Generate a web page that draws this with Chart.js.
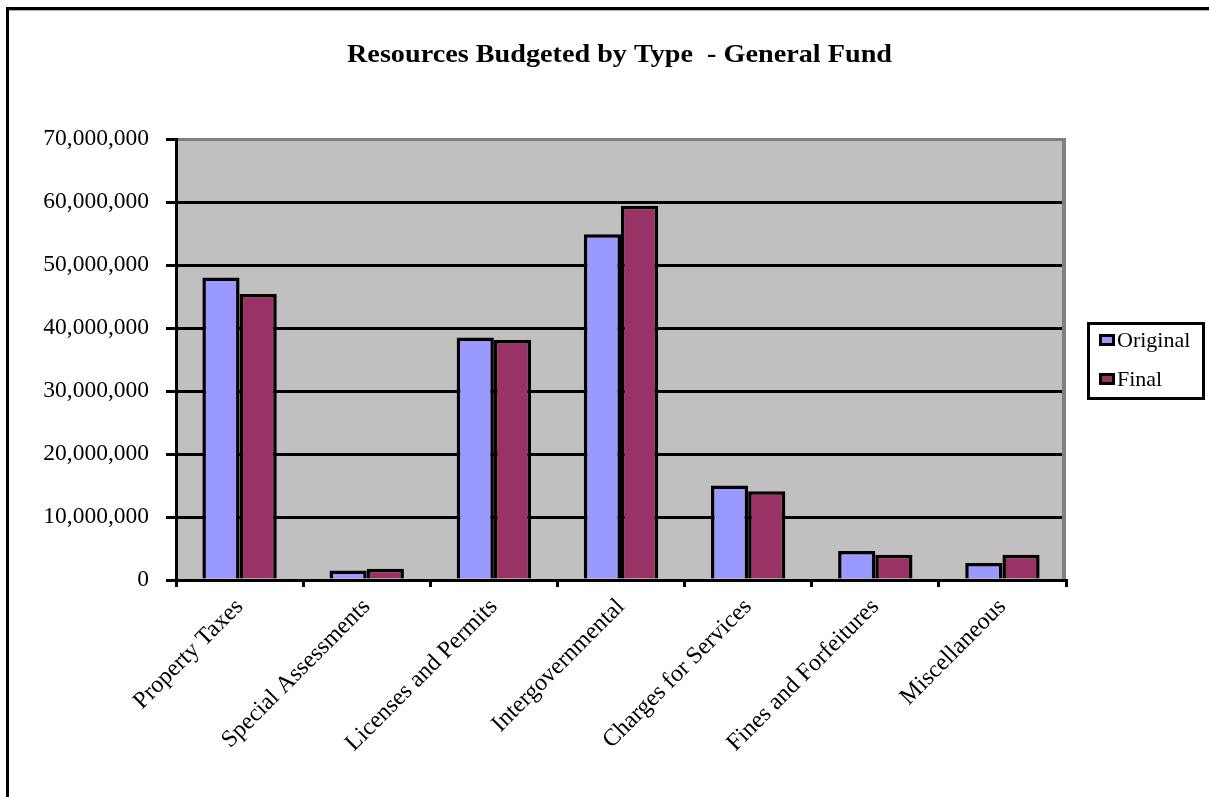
<!DOCTYPE html>
<html>
<head>
<meta charset="utf-8">
<script src="https://cdn.jsdelivr.net/npm/chart.js@4.4.1/dist/chart.umd.min.js"></script>
<style>
  html, body { margin: 0; padding: 0; background: #fff; }
  canvas { display: block; }
</style>
</head>
<body>
<canvas id="c" width="1209" height="797"></canvas>
<script>
const titleText = 'Resources Budgeted by Type  - General Fund';
const categories = ['Property Taxes', 'Special Assessments', 'Licenses and Permits', 'Intergovernmental', 'Charges for Services', 'Fines and Forfeitures', 'Miscellaneous'];
const seriesNames = ['Original', 'Final'];
const originalValues = [48000000, 1500000, 38500000, 54900000, 15000000, 4600000, 2700000];
const finalValues = [45400000, 1800000, 38100000, 59400000, 14100000, 4000000, 4000000];
const yMin = 0, yMax = 70000000, yStep = 10000000;

const SERIF = '"Liberation Serif", "Times New Roman", serif';

const framePlugin = {
  id: 'frame',
  beforeDraw(chart) {
    const ctx = chart.ctx;
    const W = chart.width, H = chart.height;
    ctx.save();
    ctx.fillStyle = '#fff';
    ctx.fillRect(0, 0, W, H);
    ctx.fillStyle = '#000';
    ctx.fillRect(6, 7, W - 6, 3);
    ctx.fillRect(6, 7, 3, H - 7);
    ctx.fillStyle = '#b0b0b0';
    ctx.fillRect(9, 10, W - 9, 1);
    const a = chart.chartArea;
    ctx.fillStyle = '#C0C0C0';
    ctx.fillRect(a.left, a.top, a.right - a.left, a.bottom - a.top);
    ctx.fillStyle = '#000';
    ctx.font = 'bold 25px ' + SERIF;
    ctx.textAlign = 'center';
    ctx.textBaseline = 'middle';
    const w = ctx.measureText(titleText).width;
    const sx = 545 / w;
    ctx.translate(619.5, 56);
    ctx.scale(sx, 1);
    ctx.fillText(titleText, 0, 0);
    ctx.restore();
  },
  beforeDatasetsDraw(chart) {
    const ctx = chart.ctx;
    const a = chart.chartArea;
    ctx.save();
    ctx.fillStyle = '#808080';
    ctx.fillRect(a.left + 2, a.top - 1, a.right - a.left - 2, 3);
    ctx.fillRect(a.right - 4, a.top - 1, 4, a.bottom - a.top);
    ctx.restore();
  },
  afterDraw(chart) {
    const ctx = chart.ctx;
    ctx.save();
    ctx.fillStyle = '#fff';
    ctx.fillRect(1088, 323, 116, 76);
    ctx.strokeStyle = '#000';
    ctx.lineWidth = 3;
    ctx.strokeRect(1088.5, 323.5, 115, 75);
    ctx.font = '22px ' + SERIF;
    ctx.textAlign = 'left';
    ctx.textBaseline = 'middle';
    const ys = [340, 379];
    chart.data.datasets.forEach((ds, i) => {
      const y = ys[i];
      ctx.fillStyle = '#000';
      ctx.fillRect(1099, y - 6, 16, 12);
      ctx.fillStyle = ds.backgroundColor;
      ctx.fillRect(1102, y - 3, 10, 6);
      ctx.fillStyle = '#000';
      ctx.fillText(ds.label, 1117, y + 1);
    });
    ctx.restore();
  }
};

new Chart(document.getElementById('c'), {
  type: 'bar',
  data: {
    labels: categories,
    datasets: [
      { label: seriesNames[0], data: originalValues, backgroundColor: '#9999FF', borderColor: '#000', borderWidth: 3.5, borderSkipped: 'start' },
      { label: seriesNames[1], data: finalValues, backgroundColor: '#993366', borderColor: '#000', borderWidth: 3.5, borderSkipped: 'start' }
    ]
  },
  options: {
    responsive: false,
    animation: false,
    devicePixelRatio: 1,
    layout: { padding: { top: 139, right: 143, bottom: 0, left: 10 } },
    datasets: { bar: { categoryPercentage: 0.585, barPercentage: 1.0 } },
    plugins: {
      legend: { display: false },
      title: { display: false },
      tooltip: { enabled: false }
    },
    scales: {
      x: {
        offset: true,
        grid: { display: true, offset: true, drawOnChartArea: false, drawTicks: true, tickLength: 7, color: '#000', lineWidth: 3 },
        border: { display: true, color: '#000', width: 3, z: 1 },
        ticks: { color: '#000', font: { family: SERIF, size: 24 }, minRotation: 45, maxRotation: 45, padding: 6, autoSkip: false },
        afterFit(s) { s.height = 217; }
      },
      y: {
        min: yMin, max: yMax,
        grid: { color: '#000', lineWidth: 3, tickLength: 10, drawTicks: true },
        border: { display: true, color: '#000', width: 3 },
        ticks: {
          stepSize: yStep, color: '#000', padding: 17,
          font: { family: SERIF, size: 23.5 },
          callback: v => Number(v).toLocaleString('en-US')
        },
        afterFit(s) { s.width = 166; }
      }
    }
  },
  plugins: [framePlugin]
});
</script>
</body>
</html>
